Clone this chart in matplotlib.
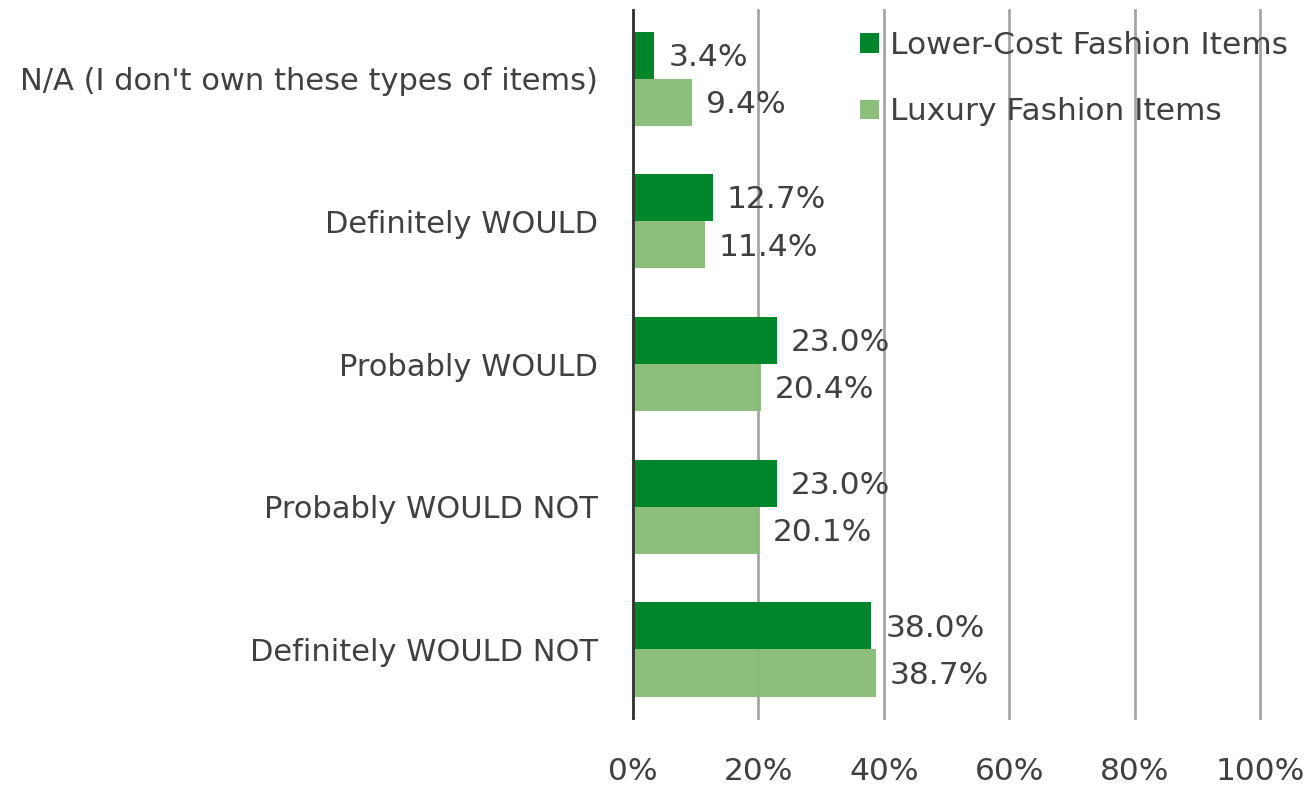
import matplotlib.pyplot as plt
import numpy as np

categories = [
    "N/A (I don't own these types of items)",
    "Definitely WOULD",
    "Probably WOULD",
    "Probably WOULD NOT",
    "Definitely WOULD NOT",
]
lower_cost = [3.4, 12.7, 23.0, 23.0, 38.0]
luxury = [9.4, 11.4, 20.4, 20.1, 38.7]
series_names = ["Lower-Cost Fashion Items", "Luxury Fashion Items"]
x_ticks = [0, 20, 40, 60, 80, 100]

dark = "#00862A"
light = "#86BC74"
text_color = "#404040"

plt.rcParams['font.family'] = ['DejaVu Sans']

fig = plt.figure(figsize=(13.15, 7.85), dpi=100)
ax = fig.add_axes([0.4814, 0.0854, 0.4768, 0.9016])

y = np.arange(len(categories))
h = 0.33

ax.set_axisbelow(True)
ax.xaxis.grid(True, color="#A6A6A6", linewidth=2)

b1 = ax.barh(y - h / 2, lower_cost, height=h, color=dark, label=series_names[0], zorder=2)
b2 = ax.barh(y + h / 2, luxury, height=h, color=light, alpha=0.95, label=series_names[1], zorder=2)

for bars, vals in ((b1, lower_cost), (b2, luxury)):
    for bar, v in zip(bars, vals):
        ax.annotate(f"{v:.1f}%", (v, bar.get_y() + bar.get_height() / 2),
                    xytext=(10, -1.5), textcoords="offset points",
                    va="center", ha="left", fontsize=22.5, color=text_color)

ax.set_xlim(0, 100)
ax.set_ylim(len(categories) - 0.52, -0.48)
ax.set_xticks(x_ticks)
ax.set_xticklabels([f"{t}%" for t in x_ticks], fontsize=22.5, color=text_color)
ax.set_yticks(y)
ax.set_yticklabels(categories, fontsize=22, color=text_color)
ax.tick_params(axis="both", length=0)
ax.tick_params(axis="x", pad=28)
ax.tick_params(axis="y", pad=25)
for line in ax.get_xgridlines():
    line.set_clip_on(False)

for side in ("top", "right", "bottom"):
    ax.spines[side].set_visible(False)
ax.spines["left"].set_color("#333333")
ax.spines["left"].set_linewidth(2)
ax.spines["left"].set_zorder(3)

leg = ax.legend(loc="upper left", bbox_to_anchor=(860 / 1315, 1 - 31 / 785),
                bbox_transform=fig.transFigure, frameon=False,
                borderaxespad=0, borderpad=0,
                fontsize=22.5, handlelength=0.6, handleheight=0.6, handletextpad=0.35,
                labelspacing=1.2, labelcolor=text_color)

fig.savefig("out.png", dpi=100)
